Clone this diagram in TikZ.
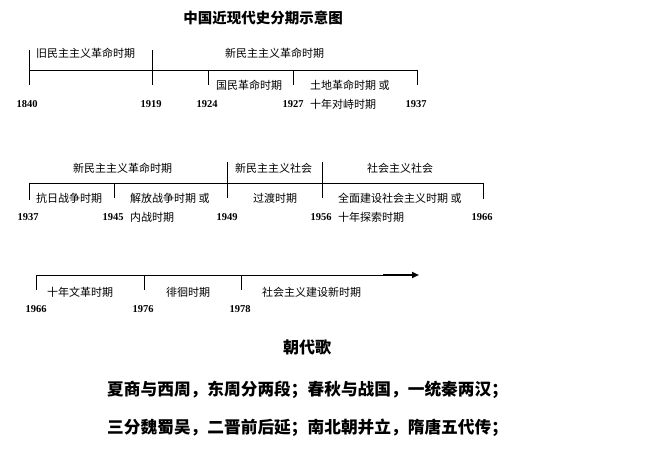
\documentclass[tikz,border=0pt]{standalone}
\usepackage{fontspec}
\setmainfont{Liberation Serif}
\newfontfamily\cjk{Noto Sans CJK SC}
\usetikzlibrary{arrows.meta}
\tikzset{
  lbl/.style={anchor=west,inner sep=0pt,font=\cjk\fontsize{11}{13}\selectfont},
  yr/.style={inner sep=0pt,font=\bfseries\fontsize{10.5}{12}\selectfont},
  ttl/.style={inner sep=0pt,font=\cjk\bfseries\fontsize{14.5}{16}\selectfont},
  poem/.style={anchor=west,inner sep=0pt,font=\cjk\bfseries\fontsize{16.7}{18}\selectfont},
  ln/.style={line width=0.8pt,black},
}
\begin{document}
\begin{tikzpicture}[x=1pt,y=-1pt]
\useasboundingbox (0,0) rectangle (663,454);
% title
\node[ttl] (title) at (263,18) {中国近现代史分期示意图};
% ---- row 1 ----
\coordinate (a0) at (29,70);
\coordinate (a1) at (152,70);
\coordinate (a2) at (208,70);
\coordinate (a3) at (293,70);
\coordinate (a4) at (417,70);
\draw[ln] (a0) -- (a4);
\draw[ln] ([yshift=20pt]a0) -- ([yshift=-15pt]a0);
\draw[ln] ([yshift=20pt]a1) -- ([yshift=-15pt]a1);
\draw[ln] (a2) -- ([yshift=-15pt]a2);
\draw[ln] (a3) -- ([yshift=-15pt]a3);
\draw[ln] (a4) -- ([yshift=-15pt]a4);
\node[lbl] (r1a) at (36,53) {旧民主主义革命时期};
\node[lbl] (r1b) at (225,53) {新民主主义革命时期};
\node[lbl] (r1c) at (216,85) {国民革命时期};
\node[lbl] (r1d) at (310,85) {土地革命时期\ 或};
\node[lbl] (r1e) at (310,104) {十年对峙时期};
\node[yr] (y1840) at (27,104) {1840};
\node[yr] (y1919) at (151,104) {1919};
\node[yr] (y1924) at (207,104) {1924};
\node[yr] (y1927) at (293,104) {1927};
\node[yr] (y1937) at (416,104) {1937};
% ---- row 2 ----
\coordinate (b0) at (29,183);
\coordinate (b1) at (114,183);
\coordinate (b2) at (227,183);
\coordinate (b3) at (322,183);
\coordinate (b4) at (483,183);
\draw[ln] (b0) -- (b4);
\draw[ln] (b0) -- ([yshift=-17pt]b0);
\draw[ln] (b1) -- ([yshift=-15pt]b1);
\draw[ln] ([yshift=21pt]b2) -- ([yshift=-15pt]b2);
\draw[ln] ([yshift=21pt]b3) -- ([yshift=-15pt]b3);
\draw[ln] (b4) -- ([yshift=-16pt]b4);
\node[lbl] (r2a) at (73,168) {新民主主义革命时期};
\node[lbl] (r2b) at (235,168) {新民主主义社会};
\node[lbl] (r2c) at (367,168) {社会主义社会};
\node[lbl] (r2d) at (36,198) {抗日战争时期};
\node[lbl] (r2e) at (130,198) {解放战争时期\ 或};
\node[lbl] (r2f) at (130,217) {内战时期};
\node[lbl] (r2g) at (253,198) {过渡时期};
\node[lbl] (r2h) at (338,198) {全面建设社会主义时期\ 或};
\node[lbl] (r2i) at (338,217) {十年探索时期};
\node[yr] (z1937) at (28,217) {1937};
\node[yr] (z1945) at (113,217) {1945};
\node[yr] (z1949) at (227,217) {1949};
\node[yr] (z1956) at (321,217) {1956};
\node[yr] (z1966) at (482,217) {1966};
% ---- row 3 ----
\coordinate (c0) at (36,275);
\coordinate (c1) at (144,275);
\coordinate (c2) at (241,275);
\coordinate (c3) at (383,275);
\coordinate (c4) at (419,275);
\draw[ln] (c0) -- (c3);
\draw[line width=1.8pt,-{Triangle[length=7pt,width=6pt]}] (c3) -- (c4);
\draw[ln] (c0) -- ([yshift=-15pt]c0);
\draw[ln] (c1) -- ([yshift=-15pt]c1);
\draw[ln] (c2) -- ([yshift=-15pt]c2);
\node[lbl] (r3a) at (47,292) {十年文革时期};
\node[lbl] (r3b) at (166,292) {徘徊时期};
\node[lbl] (r3c) at (262,292) {社会主义建设新时期};
\node[yr] (w1966) at (36,309) {1966};
\node[yr] (w1976) at (143,309) {1976};
\node[yr] (w1978) at (240,309) {1978};
% ---- poem ----
\node[ttl,font=\cjk\bfseries\fontsize{16}{18}\selectfont] (poemtitle) at (307,347) {朝代歌};
\node[poem] (p1) at (107,390) {夏商与西周，东周分两段；春秋与战国，一统秦两汉；};
\node[poem] (p2) at (107,428) {三分魏蜀吴，二晋前后延；南北朝并立，隋唐五代传；};
\end{tikzpicture}
\end{document}
